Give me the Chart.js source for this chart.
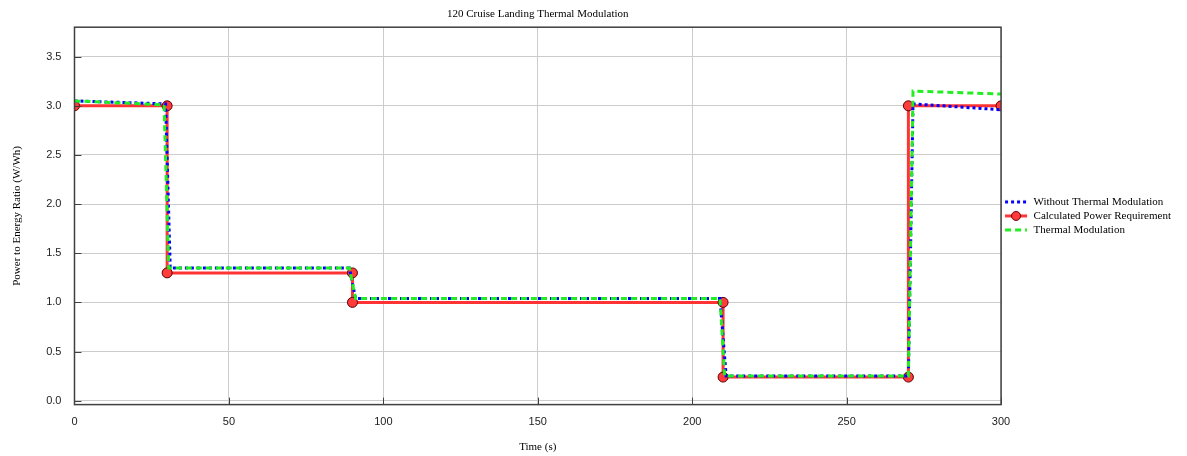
<!DOCTYPE html>
<html>
<head>
<meta charset="utf-8">
<script src="https://cdn.jsdelivr.net/npm/chart.js@4/dist/chart.umd.min.js"></script>
<style>
  html, body { margin: 0; padding: 0; background: #fff; }
  #wrap { width: 1187px; height: 456px; }
</style>
</head>
<body>
<div id="wrap"><canvas id="chart" width="1187" height="456"></canvas></div>
<script>
// values
const calcTime = [0, 30, 30, 90, 90, 210, 210, 270, 270, 300];
const calcPower = [3.0, 3.0, 1.3, 1.3, 1.0, 1.0, 0.24, 0.24, 3.0, 3.0];

const withoutTime = [0, 29.5, 31, 89, 91, 209, 211, 270, 271.5, 300];
const withoutPower = [3.05, 3.02, 1.35, 1.35, 1.04, 1.04, 0.25, 0.25, 3.02, 2.96];

const thermalTime = [0, 29, 30.5, 89, 91, 209, 210.5, 270, 271.5, 300];
const thermalPower = [3.05, 3.01, 1.35, 1.35, 1.04, 1.04, 0.25, 0.25, 3.15, 3.12];

const xTicks = [0, 50, 100, 150, 200, 250, 300];
const yTicks = [0.0, 0.5, 1.0, 1.5, 2.0, 2.5, 3.0, 3.5];

const toPoints = (xs, ys) => xs.map((x, i) => ({ x: x, y: ys[i] }));

// little canvases used as legend symbols
function legendSymbol(color, dash, marker) {
  const c = document.createElement('canvas');
  c.width = 24; c.height = 12;
  const g = c.getContext('2d');
  g.strokeStyle = color;
  g.lineWidth = 3;
  g.setLineDash(dash);
  g.beginPath();
  g.moveTo(1, 6); g.lineTo(23, 6);
  g.stroke();
  if (marker) {
    g.setLineDash([]);
    g.fillStyle = '#ff3b3b';
    g.strokeStyle = '#5a0000';
    g.lineWidth = 1;
    g.beginPath();
    g.arc(12, 6, 4.5, 0, Math.PI * 2);
    g.fill(); g.stroke();
  }
  return c;
}

const symbols = [
  legendSymbol('#0000ff', [3, 3], false),
  legendSymbol('#ff3333', [], true),
  legendSymbol('#22ee22', [6, 4], false)
];

// box round the plot and small ticks pointing inward
const frame = {
  id: 'frame',
  afterDatasetsDraw(chart) {
    const ctx = chart.ctx;
    const a = chart.chartArea;
    const xs = chart.scales.x, ys = chart.scales.y;
    ctx.save();
    ctx.strokeStyle = '#404040';
    ctx.lineWidth = 1.5;
    ctx.strokeRect(a.left, a.top, a.right - a.left, a.bottom - a.top);
    ctx.lineWidth = 1;
    ctx.beginPath();
    xTicks.forEach(v => {
      const px = Math.round(xs.getPixelForValue(v)) + 0.5;
      ctx.moveTo(px, a.bottom); ctx.lineTo(px, a.bottom - 7);
    });
    yTicks.forEach(v => {
      const py = Math.round(ys.getPixelForValue(v)) + 0.5;
      ctx.moveTo(a.left, py); ctx.lineTo(a.left + 7, py);
    });
    ctx.stroke();
    ctx.restore();
  }
};

new Chart(document.getElementById('chart').getContext('2d'), {
  type: 'line',
  data: {
    datasets: [
      {
        label: 'Without Thermal Modulation',
        data: toPoints(withoutTime, withoutPower),
        borderColor: '#0000ff',
        borderWidth: 3,
        borderDash: [3, 3],
        pointRadius: 0,
        clip: 0,
        order: 2
      },
      {
        label: 'Calculated Power Requirement',
        data: toPoints(calcTime, calcPower),
        borderColor: '#ff3333',
        borderWidth: 3,
        pointRadius: 5,
        pointBackgroundColor: '#ff3b3b',
        pointBorderColor: '#5a0000',
        pointBorderWidth: 1,
        clip: 0,
        order: 3
      },
      {
        label: 'Thermal Modulation',
        data: toPoints(thermalTime, thermalPower),
        borderColor: '#22ee22',
        borderWidth: 3,
        borderDash: [6, 4],
        pointRadius: 0,
        clip: 0,
        order: 1
      }
    ]
  },
  options: {
    responsive: false,
    animation: false,
    layout: { padding: { left: 11, right: 6, top: 0, bottom: 1 } },
    plugins: {
      title: {
        display: true,
        text: '120 Cruise Landing Thermal Modulation',
        fullSize: false,
        color: '#000',
        font: { family: 'Liberation Serif', size: 11, weight: 'normal' },
        padding: { top: 8, bottom: 6 }
      },
      legend: {
        position: 'right',
        fullSize: false,
        labels: {
          usePointStyle: true,
          pointStyleWidth: 24,
          padding: 3,
          color: '#000',
          font: { family: 'Liberation Serif', size: 11 },
          generateLabels(chart) {
            return chart.data.datasets.map((ds, i) => ({
              text: ds.label,
              pointStyle: symbols[i],
              datasetIndex: i,
              hidden: false,
              fontColor: '#000',
              lineWidth: 0
            }));
          }
        }
      },
      tooltip: { enabled: false }
    },
    scales: {
      x: {
        type: 'linear',
        min: 0,
        max: 300,
        afterBuildTicks(scale) { scale.ticks = xTicks.map(v => ({ value: v })); },
        grid: { color: '#cccccc', drawTicks: false },
        border: { display: false },
        ticks: {
          padding: 11,
          color: '#222',
          font: { family: 'Liberation Sans', size: 11 }
        },
        title: {
          display: true,
          text: 'Time (s)',
          color: '#000',
          font: { family: 'Liberation Serif', size: 11 },
          padding: { top: 1, bottom: 1 }
        }
      },
      y: {
        type: 'linear',
        min: -0.04,
        max: 3.8,
        afterBuildTicks(scale) { scale.ticks = yTicks.map(v => ({ value: v })); },
        grid: { color: '#cccccc', drawTicks: false },
        border: { display: false },
        ticks: {
          padding: 13,
          color: '#222',
          font: { family: 'Liberation Sans', size: 11 },
          callback: v => v.toFixed(1)
        },
        title: {
          display: true,
          text: 'Power to Energy Ratio (W/Wh)',
          color: '#000',
          font: { family: 'Liberation Serif', size: 11 },
          padding: { top: 0, bottom: 9 }
        }
      }
    }
  },
  plugins: [frame]
});
</script>
</body>
</html>
